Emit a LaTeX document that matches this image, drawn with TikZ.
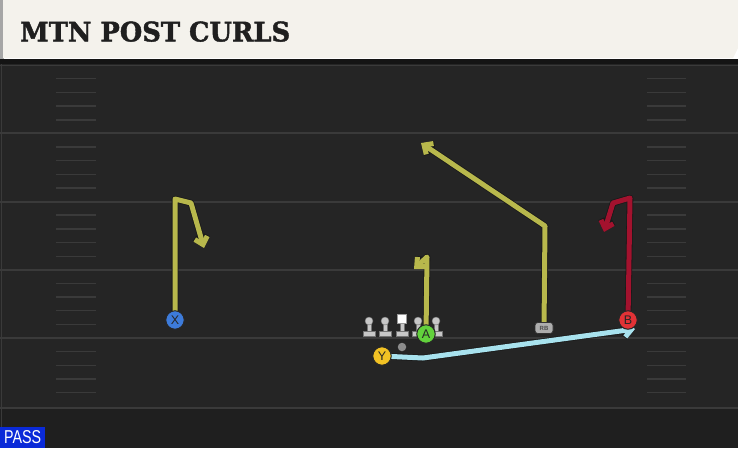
\documentclass[tikz,border=0pt]{standalone}
\usepackage{fontspec}
\usetikzlibrary{arrows.meta}
\newfontfamily\titlefont{DejaVu Serif}[BoldFeatures={FakeBold=1.6}]
\newfontfamily\plfont{Liberation Sans}
\definecolor{fieldbg}{HTML}{252525}
\definecolor{fieldlow}{HTML}{1F1F1F}
\definecolor{fline}{HTML}{3A3A3A}
\definecolor{hdr}{HTML}{F4F2EC}
\definecolor{olive}{HTML}{B8B84C}
\definecolor{rred}{HTML}{A3122E}
\definecolor{rblue}{HTML}{A8E2EE}
\definecolor{pblue}{HTML}{3D7BDA}
\definecolor{pgreen}{HTML}{62D23C}
\definecolor{pred}{HTML}{E23236}
\definecolor{pyel}{HTML}{F2C224}
\definecolor{passblue}{HTML}{0A2AD8}
\pgfdeclarelayer{bg}
\pgfdeclarelayer{routes}
\pgfsetlayers{bg,routes,main}
\tikzset{
  player/.style={circle, draw=black!85, line width=1pt, minimum size=18.5pt, inner sep=0pt,
    font=\plfont\fontsize{12.5}{12.5}\selectfont, text=black!85},
  routeout/.style={draw=black!90, line width=6.6pt, line join=round, -{Straight Barb[length=7pt,width=13pt]}},
  routeline/.style={line width=5pt, line join=round, -{Straight Barb[length=7pt,width=13pt]}},
  yardline/.style={draw=fline, line width=2pt},
  hashmark/.style={draw=fline, line width=1.4pt},
  pawnfill/.style={fill=black!22, draw=black!55, line width=0.4pt},
  pics/lineman/.style={code={
    \fill[pawnfill] (-6,7) rectangle (6,12);
    \fill[pawnfill] (-2,-3) rectangle (2,7);
    \fill[pawnfill] (0,-3) circle (4);
  }},
  pics/center/.style={code={
    \fill[pawnfill] (-6,7) rectangle (6,12);
    \fill[pawnfill] (-2,-2) rectangle (2,7);
    \fill[white, draw=black!40, line width=0.4pt] (-4.5,-10) rectangle (4.5,-1);
  }},
}
\begin{document}
\begin{tikzpicture}[x=1pt,y=-1pt]
\useasboundingbox (0,0) rectangle (738,448);
\begin{pgfonlayer}{bg}
  % field
  \fill[fieldbg] (0,59) rectangle (738,448);
  \fill[fieldlow] (0,408) rectangle (738,448);
  \fill[black!92] (0,59) rectangle (738,64);
  \draw[fline, line width=1pt] (0,65) -- (738,65);
  \draw[fline, line width=1pt] (1,64) -- (1,448);
  \foreach \y in {133,202,270,338,408} \draw[yardline] (0,\y) -- (738,\y);
  \foreach \y in {65,133.2,201.4,269.6,337.8} {
    \foreach \k in {1,2,3,4} {
      \draw[hashmark] (56,\y+\k*13.7) -- (96,\y+\k*13.7);
      \draw[hashmark] (647,\y+\k*13.7) -- (686,\y+\k*13.7);
    }
  }
  % header
  \fill[black!35] (0,0) rectangle (4,59);
  \fill[hdr] (3,0) -- (738,0) -- (738,48) -- (733,58) -- (3,58) -- cycle;
  \node[anchor=south west, inner sep=0pt, text=black!88] (title) at (20,42)
    {\resizebox{270pt}{20pt}{\titlefont\bfseries MTN POST CURLS}};
  % PASS label
  \node[anchor=south west, fill=passblue, text=white, inner sep=0pt,
        minimum width=45pt, minimum height=21pt] (pass) at (0,448)
    {\resizebox{37pt}{13pt}{\plfont PASS}};
\end{pgfonlayer}

% offensive line
\pic at (369,324) {lineman};
\pic at (385,324) {lineman};
\pic at (402,324) {center};
\pic at (418,324) {lineman};
\pic at (436,324) {lineman};
\node[circle, fill=black!45, inner sep=0pt, minimum size=8.5pt] (qb) at (402,347) {};

% players
\node[player, fill=pblue] (X) at (175,320) {X};
\node[player, fill=pgreen] (A) at (426,334) {A};
\node[player, fill=pred] (B) at (628,320) {B};
\node[player, fill=pyel] (Y) at (382,356) {Y};
\node[fill=black!32, draw=black!80, line width=0.6pt, rounded corners=3pt,
      minimum width=18pt, minimum height=11pt, inner sep=0pt,
      font=\plfont\bfseries\fontsize{6}{6}\selectfont, text=black!70] (RB) at (544,328) {RB};

% route waypoints
\coordinate (x1) at (175,199);
\coordinate (x2) at (191,203);
\coordinate (x3) at (204,248);
\coordinate (a1) at (427,257);
\coordinate (a2) at (414,269);
\coordinate (r1) at (545,226);
\coordinate (r2) at (421,143);
\coordinate (b1) at (630,198);
\coordinate (b2) at (613,203);
\coordinate (b3) at (604,232);
\coordinate (y1) at (423,358);
\coordinate (y2) at (635,329);

\begin{pgfonlayer}{routes}
  \draw[routeout] (X.center) -- (x1) -- (x2) -- (x3);
  \draw[routeline, olive] (X.center) -- (x1) -- (x2) -- (x3);
  \draw[routeout] (A.center) -- (a1) -- (a2);
  \draw[routeline, olive] (A.center) -- (a1) -- (a2);
  \draw[routeout] (RB.center) -- (r1) -- (r2);
  \draw[routeline, olive] (RB.center) -- (r1) -- (r2);
  \draw[routeout] (B.center) -- (b1) -- (b2) -- (b3);
  \draw[routeline, rred] (B.center) -- (b1) -- (b2) -- (b3);
  \draw[routeout] (Y.center) -- (y1) -- (y2);
  \draw[routeline, rblue] (Y.center) -- (y1) -- (y2);
\end{pgfonlayer}
\end{tikzpicture}
\end{document}
